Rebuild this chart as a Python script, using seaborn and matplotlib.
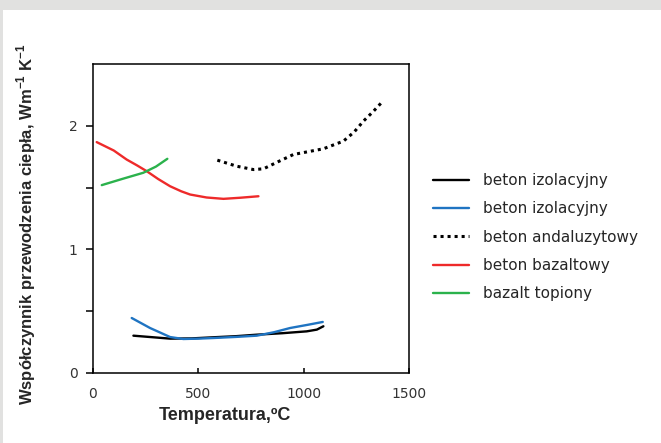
import matplotlib
matplotlib.use("Agg")
import matplotlib.pyplot as plt
import seaborn as sns
import pandas as pd
from matplotlib.patches import Rectangle

# data
iz1_x = [193, 280, 367, 470, 572, 680, 778, 900, 1015, 1063, 1094]
iz1_y = [0.302, 0.290, 0.278, 0.280, 0.289, 0.298, 0.310, 0.322, 0.337, 0.351, 0.378]
iz2_x = [185, 272, 367, 430, 500, 572, 680, 778, 860, 936, 1020, 1091]
iz2_y = [0.445, 0.364, 0.291, 0.275, 0.278, 0.283, 0.292, 0.302, 0.330, 0.364, 0.390, 0.413]
and_x = [591, 683, 762, 810, 880, 952, 1020, 1094, 1189, 1240, 1284, 1330, 1371]
and_y = [1.722, 1.673, 1.646, 1.652, 1.710, 1.768, 1.790, 1.814, 1.876, 1.950, 2.038, 2.115, 2.19]
baz_x = [19, 100, 161, 210, 256, 310, 367, 420, 462, 540, 620, 700, 786]
baz_y = [1.868, 1.800, 1.727, 1.680, 1.633, 1.570, 1.511, 1.470, 1.444, 1.420, 1.409, 1.418, 1.430]
top_x = [43, 140, 240, 300, 354]
top_y = [1.52, 1.57, 1.62, 1.67, 1.733]

labels = ["beton izolacyjny", "beton izolacyjny", "beton andaluzytowy",
          "beton bazaltowy", "bazalt topiony"]
xlabel = "Temperatura,ºC"
ylabel = r"Współczynnik przewodzenia ciepła, Wm$^{\mathbf{-1}}$ K$^{\mathbf{-1}}$"
xticks = [0, 500, 1000, 1500]
yticks = [0, 0.5, 1, 1.5, 2]
yticklabels = ["0", "", "1", "", "2"]

sns.set_style("ticks")
plt.rcParams['font.family'] = ['DejaVu Sans']
plt.rcParams['mathtext.fontset'] = 'custom'
plt.rcParams['mathtext.bf'] = 'Liberation Sans:bold'
plt.rcParams['mathtext.rm'] = 'Liberation Sans'

W, H = 661, 443
fig = plt.figure(figsize=(W / 100, H / 100), dpi=100)
fig.patch.set_facecolor("white")
fig.patches.append(Rectangle((0, 1 - 10 / H), 1, 10 / H, transform=fig.transFigure,
                             facecolor="#e1e1e0", edgecolor="none", zorder=-1))
fig.patches.append(Rectangle((0, 0), 2.5 / W, 1, transform=fig.transFigure,
                             facecolor="#e1e1e0", edgecolor="none", zorder=-1))

x0, x1, y0, y1 = 92.7, 409.0, 373.0, 64.0
ax = fig.add_axes([x0 / W, 1 - y0 / H, (x1 - x0) / W, (y0 - y1) / H])

series = [
    (iz1_x, iz1_y, "#000000", "-", 1.7),
    (iz2_x, iz2_y, "#1f74c2", "-", 1.7),
    (and_x, and_y, "#000000", (0, (1.0, 1.3)), 2.2),
    (baz_x, baz_y, "#ee2a2a", "-", 1.7),
    (top_x, top_y, "#2bb24c", "-", 1.7),
]
for (xs, ys, c, ls, lw), lab in zip(series, labels):
    df = pd.DataFrame({"x": xs, "y": ys})
    sns.lineplot(data=df, x="x", y="y", ax=ax, color=c, linestyle=ls,
                 linewidth=lw, label=lab, estimator=None, sort=False)

ax.set_xlim(0, 1500)
ax.set_ylim(0, 2.5)
ax.set_xticks(xticks)
ax.set_yticks(yticks)
ax.set_yticklabels(yticklabels)
for s in ax.spines.values():
    s.set_visible(True)
    s.set_linewidth(1.1)
    s.set_color("black")
ax.tick_params(axis="y", direction="out", length=5, width=1.1, color="black",
               labelsize=10, labelcolor="#333333", pad=6)
ax.tick_params(axis="x", direction="in", length=3.5, width=1.1, color="black",
               labelsize=10, labelcolor="#333333", pad=10)
ax.set_xlabel(xlabel, fontsize=13, fontweight="bold", family="Liberation Sans")
ax.xaxis.set_label_coords((225 - x0) / (x1 - x0), (y0 - 415) / (y0 - y1))
ax.xaxis.label.set_va("center")
ax.set_ylabel(ylabel, fontsize=12, fontweight="bold", family="Liberation Sans")
ax.yaxis.set_label_coords((26 - x0) / (x1 - x0), (y0 - 224) / (y0 - y1))
ax.yaxis.label.set_va("center")

leg = ax.legend(loc="upper left",
                bbox_to_anchor=(433 / W, 1 - 173 / H), bbox_transform=fig.transFigure,
                frameon=False, fontsize=11, handlelength=2.35, handletextpad=0.92,
                labelspacing=0.87, borderpad=0, borderaxespad=0)

fig.savefig("out.png", dpi=100)
